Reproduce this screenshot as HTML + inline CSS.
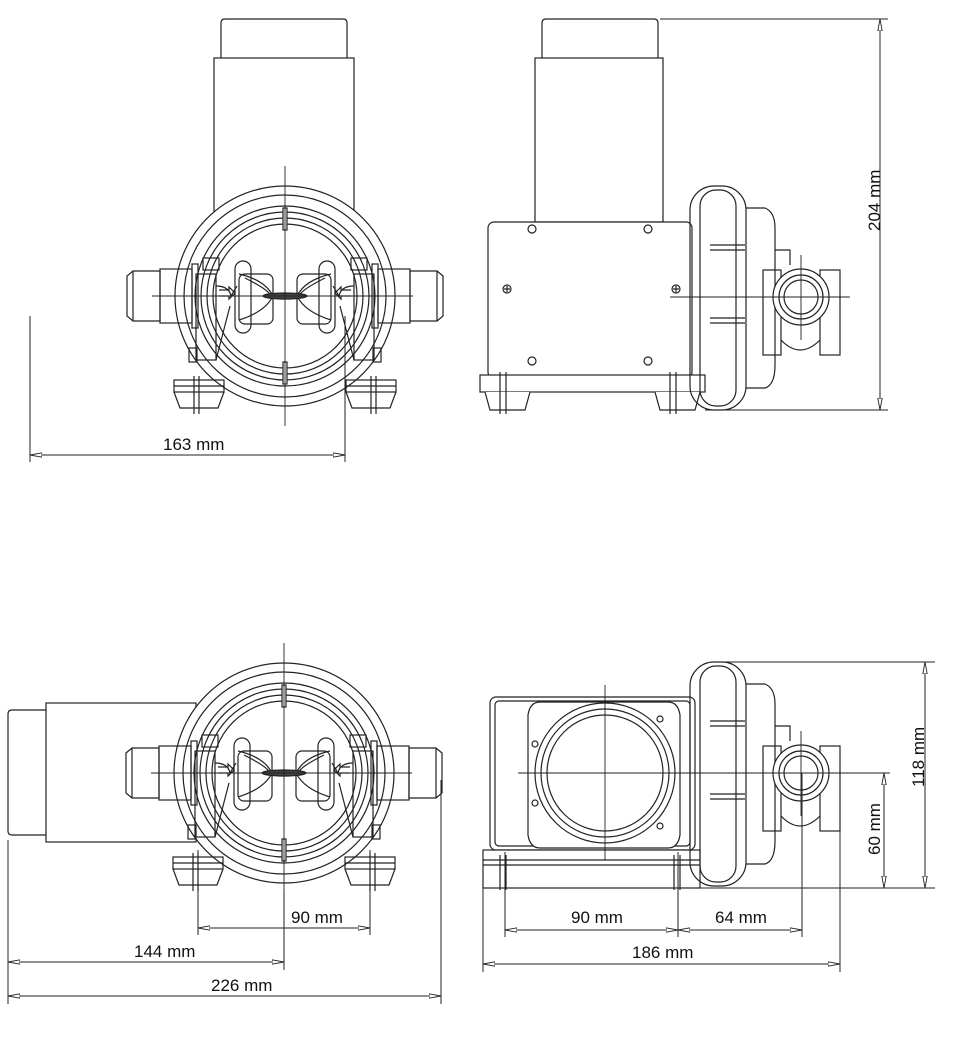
<!DOCTYPE html>
<html><head><meta charset="utf-8"><style>
html,body{margin:0;padding:0;background:#fff;width:956px;height:1054px;overflow:hidden}
svg{display:block}
text{font-family:"Liberation Sans",Arial,sans-serif;font-size:17px;fill:#111}
</style></head><body>
<svg width="956" height="1054" viewBox="0 0 956 1054" xmlns="http://www.w3.org/2000/svg">
<defs>
<marker id="ar" viewBox="0 0 12 6" refX="12" refY="3" markerWidth="12" markerHeight="6" orient="auto-start-reverse" markerUnits="userSpaceOnUse">
<path d="M0,0.8 L12,3 L0,5.2 Z" fill="#fff" stroke="#222" stroke-width="0.9"/>
</marker>
<g id="half" fill="none" stroke="#222" stroke-width="1.2">
  <path d="M-158,-20 L-152,-25 L-125,-25 L-125,25 L-152,25 L-158,20 Z"/>
  <line x1="-152" y1="-25" x2="-152" y2="25"/>
  <rect x="-125" y="-27" width="32" height="54"/>
  <rect x="-93" y="-32" width="6" height="64"/>
  <rect x="-89" y="-22" width="20" height="86"/>
  <rect x="-82" y="-38" width="16" height="12"/>
  <rect x="-96" y="52" width="8" height="14"/>
  <path d="M-69,-10 Q-56,-10 -54,0 L-48,-10"/>
  <path d="M-66,-6 L-56,-6 L-56,-9 L-50,-3 L-56,3 L-56,0 L-66,0"/>
  <rect x="-50" y="-35" width="16" height="72" rx="8"/>
  <rect x="-46" y="-22" width="34" height="50" rx="6"/>
  <path d="M-46,-22 Q-20,-16 -12,0 Q-20,16 -46,24"/>
  <path d="M-40,-18 Q-16,-6 -14,0"/>
  <path d="M-69,64 L-55,10"/>
  <rect x="-111" y="84" width="50" height="12"/>
  <path d="M-111,96 L-105,112 L-67,112 L-61,96"/>
  <line x1="-111" y1="90" x2="-61" y2="90"/>
  <line x1="-91" y1="80" x2="-91" y2="118"/>
  <line x1="-86" y1="80" x2="-86" y2="118"/>
</g>
<g id="head" fill="none" stroke="#222" stroke-width="1.2">
  <circle r="110"/><circle r="101"/><circle r="90"/><circle r="84"/><circle r="78"/><circle r="72"/>
  <use href="#half"/>
  <use href="#half" transform="scale(-1,1)"/>
  <ellipse rx="22" ry="3" fill="#444"/>
  <rect x="-2" y="-88" width="4" height="22" fill="#fff"/>
  <rect x="-2" y="66" width="4" height="22" fill="#fff"/>
  <line x1="0" y1="-130" x2="0" y2="130" stroke-width="0.9"/>
  <line x1="-133" y1="0" x2="128" y2="0" stroke-width="0.9"/>
</g>
<g id="side" fill="none" stroke="#222" stroke-width="1.2">
  <rect x="690" y="186" width="56" height="224" rx="24"/>
  <rect x="700" y="190" width="36" height="216" rx="16"/>
  <line x1="710" y1="245" x2="745" y2="245"/><line x1="710" y1="250" x2="745" y2="250"/>
  <line x1="710" y1="318" x2="745" y2="318"/><line x1="710" y1="323" x2="745" y2="323"/>
  <path d="M746,208 L765,208 Q775,212 775,228 L775,365 Q775,385 765,388 L746,388"/>
  <path d="M775,250 L790,250 L790,265"/>
  <rect x="763" y="270" width="18" height="85"/>
  <rect x="820" y="270" width="20" height="85"/>
  <path d="M781,285 Q800,260 820,285"/>
  <path d="M781,340 Q800,360 820,340"/>
  <circle cx="801" cy="297" r="28" fill="#fff"/>
  <circle cx="801" cy="297" r="22"/><circle cx="801" cy="297" r="17"/>
  <line x1="670" y1="297" x2="850" y2="297" stroke-width="0.9"/>
  <line x1="801" y1="255" x2="801" y2="340" stroke-width="0.9"/>
</g>
</defs>

<g fill="#fff" stroke="#222" stroke-width="1.2">
  <path d="M221,58 L221,23 Q221,19 225,19 L343,19 Q347,19 347,23 L347,58"/>
  <rect x="214" y="58" width="140" height="160"/>
</g>
<g transform="translate(285,296)"><circle r="110" fill="#fff"/><use href="#head"/></g>
<g stroke="#222" stroke-width="1" fill="none">
  <line x1="30" y1="316" x2="30" y2="462"/>
  <line x1="345" y1="316" x2="345" y2="462"/>
  <line x1="30" y1="455" x2="345" y2="455" marker-start="url(#ar)" marker-end="url(#ar)"/>
</g>
<text x="163" y="450">163 mm</text>

<g fill="#fff" stroke="#222" stroke-width="1.2">
  <path d="M542,58 L542,23 Q542,19 546,19 L654,19 Q658,19 658,23 L658,58"/>
  <rect x="535" y="58" width="128" height="164"/>
  <rect x="488" y="222" width="204" height="156" rx="6"/>
  <circle cx="532" cy="229" r="4"/><circle cx="648" cy="229" r="4"/>
  <circle cx="532" cy="361" r="4"/><circle cx="648" cy="361" r="4"/>
  <circle cx="507" cy="289" r="4"/><circle cx="676" cy="289" r="4"/>
  <path d="M504,289h6M507,286v6M673,289h6M676,286v6"/>
  <rect x="480" y="375" width="225" height="17"/>
  <path d="M485,392 L490,410 L525,410 L530,392"/>
  <path d="M655,392 L660,410 L695,410 L700,392"/>
  <path d="M500,372v42M506,372v42M670,372v42M676,372v42" fill="none"/>
</g>
<use href="#side"/>
<g stroke="#222" stroke-width="1" fill="none">
  <line x1="660" y1="19" x2="888" y2="19"/>
  <line x1="705" y1="410" x2="888" y2="410"/>
  <line x1="880" y1="19" x2="880" y2="410" marker-start="url(#ar)" marker-end="url(#ar)"/>
</g>
<text transform="translate(880,231) rotate(-90)">204 mm</text>

<g fill="#fff" stroke="#222" stroke-width="1.2">
  <path d="M46,710 L12,710 Q8,710 8,714 L8,831 Q8,835 12,835 L46,835"/>
  <rect x="46" y="703" width="150" height="139"/>
</g>
<g transform="translate(284,773)"><circle r="110" fill="#fff"/><use href="#head"/></g>
<g stroke="#222" stroke-width="1" fill="none">
  <line x1="198" y1="850" x2="198" y2="935"/>
  <line x1="370" y1="850" x2="370" y2="935"/>
  <line x1="284" y1="890" x2="284" y2="970"/>
  <line x1="8" y1="840" x2="8" y2="1004"/>
  <line x1="441" y1="780" x2="441" y2="1004"/>
  <line x1="198" y1="928" x2="370" y2="928" marker-start="url(#ar)" marker-end="url(#ar)"/>
  <line x1="8" y1="962" x2="284" y2="962" marker-start="url(#ar)" marker-end="url(#ar)"/>
  <line x1="8" y1="996" x2="441" y2="996" marker-start="url(#ar)" marker-end="url(#ar)"/>
</g>
<text x="291" y="923">90 mm</text>
<text x="134" y="957">144 mm</text>
<text x="211" y="991">226 mm</text>

<g fill="#fff" stroke="#222" stroke-width="1.2">
  <rect x="490" y="697" width="205" height="153" rx="6"/>
  <rect x="495" y="701" width="195" height="145" rx="4"/>
  <path d="M540,702 L668,702 Q678,702 680,715 L680,835 Q678,848 668,848 L540,848 Q530,848 528,835 L528,715 Q530,702 540,702 Z"/>
  <circle cx="605" cy="773" r="70"/>
  <circle cx="605" cy="773" r="64"/><circle cx="605" cy="773" r="58"/>
  <circle cx="535" cy="744" r="3"/><circle cx="660" cy="719" r="3"/>
  <circle cx="535" cy="803" r="3"/><circle cx="660" cy="826" r="3"/>
  <rect x="483" y="850" width="217" height="38"/>
  <path d="M483,860h217M483,865h217" fill="none"/>
  <path d="M500,855v35M506,855v35M680,855v35M674,855v35" fill="none"/>
</g>
<g stroke="#222" stroke-width="0.9" fill="none">
  <line x1="605" y1="685" x2="605" y2="860"/>
  <line x1="518" y1="773" x2="690" y2="773"/>
</g>
<use href="#side" transform="translate(0,476)"/>
<g stroke="#222" stroke-width="1" fill="none">
  <line x1="720" y1="662" x2="935" y2="662"/>
  <line x1="695" y1="888" x2="935" y2="888"/>
  <line x1="840" y1="773" x2="890" y2="773"/>
  <line x1="925" y1="662" x2="925" y2="888" marker-start="url(#ar)" marker-end="url(#ar)"/>
  <line x1="884" y1="773" x2="884" y2="888" marker-start="url(#ar)" marker-end="url(#ar)"/>
  <line x1="483" y1="888" x2="483" y2="972"/>
  <line x1="505" y1="852" x2="505" y2="937"/>
  <line x1="678" y1="852" x2="678" y2="937"/>
  <line x1="802" y1="773" x2="802" y2="937"/>
  <line x1="840" y1="770" x2="840" y2="972"/>
  <line x1="505" y1="930" x2="678" y2="930" marker-start="url(#ar)" marker-end="url(#ar)"/>
  <line x1="678" y1="930" x2="802" y2="930" marker-start="url(#ar)" marker-end="url(#ar)"/>
  <line x1="483" y1="964" x2="840" y2="964" marker-start="url(#ar)" marker-end="url(#ar)"/>
</g>
<text x="571" y="923">90 mm</text>
<text x="715" y="923">64 mm</text>
<text x="632" y="958">186 mm</text>
<text transform="translate(880,855) rotate(-90)">60 mm</text>
<text transform="translate(924,787) rotate(-90)">118 mm</text>
</svg>
</body></html>
